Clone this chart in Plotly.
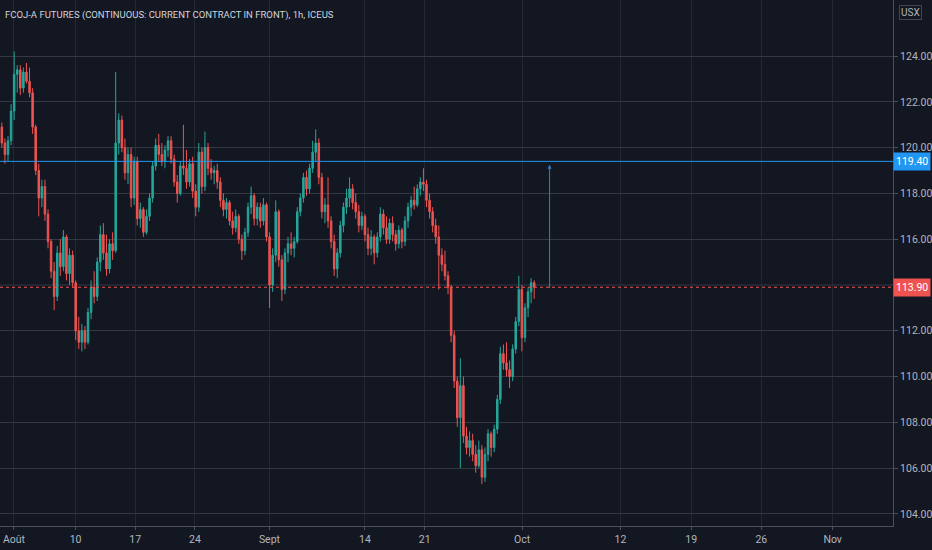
import plotly.graph_objects as go

# trading sessions (Jul 31 is only partly visible on the left edge)
sessions = [
    "2020-07-31",
    "2020-08-03", "2020-08-04", "2020-08-05", "2020-08-06", "2020-08-07",
    "2020-08-10", "2020-08-11", "2020-08-12", "2020-08-13", "2020-08-14",
    "2020-08-17", "2020-08-18", "2020-08-19", "2020-08-20", "2020-08-21",
    "2020-08-24", "2020-08-25", "2020-08-26", "2020-08-27", "2020-08-28",
    "2020-08-31", "2020-09-01", "2020-09-02", "2020-09-03", "2020-09-04",
    "2020-09-08", "2020-09-09", "2020-09-10", "2020-09-11",
    "2020-09-14", "2020-09-15", "2020-09-16", "2020-09-17", "2020-09-18",
    "2020-09-21", "2020-09-22", "2020-09-23", "2020-09-24", "2020-09-25",
    "2020-09-28", "2020-09-29", "2020-09-30", "2020-10-01",
]
BARS_PER_SESSION = 4
FIRST_SLOT = 2  # first session starts mid-day

opens = [
    120.9, 120.2,
    119.7, 120.3, 121.6, 123.2,  123.4, 122.6, 123.3, 122.9,  122.4, 120.9, 119.0, 117.8,
    118.3, 117.1, 115.9, 114.6,  113.5, 115.4, 114.8, 116.1,
    114.5, 115.3, 114.1, 112.0,  111.5, 112.0, 111.5, 112.8,  113.9, 113.5, 115.0, 116.2,
    115.4, 114.7, 115.8, 115.5,  120.2, 121.2, 120.0, 118.9,
    119.7, 117.8, 119.4, 116.9,  117.3, 116.3, 117.0, 117.8,  119.2, 120.1, 119.7, 119.4,
    119.9, 120.3, 119.5, 118.5,  118.0, 119.2, 119.1, 118.5,
    119.3, 118.1, 117.4, 119.8,  118.3, 120.0, 119.1, 118.9,  119.0, 118.5, 117.7, 117.3,
    117.6, 116.8, 116.5, 117.0,  116.0, 115.5, 116.3, 117.4,
    117.9, 116.9, 117.4, 116.8,  117.5, 116.1, 114.0, 115.3,  117.2, 115.1, 113.8, 115.4,
    115.8, 115.6, 115.9, 117.2,  117.8, 118.7, 118.2, 119.1,
    119.8, 120.2, 118.7, 117.2,  117.5, 116.8, 115.9, 114.7,  115.4, 116.6, 117.4, 117.8,
    118.2, 117.6, 117.2, 116.6,
    117.0, 116.2, 115.6, 116.1,  115.4, 116.1, 117.1, 116.5,  116.0, 116.7, 116.2, 115.8,
    116.4, 115.9, 116.8, 117.4,  117.7, 117.5, 118.2, 118.5,
    118.4, 117.7, 117.2, 116.6,  116.1, 115.3, 114.9, 114.4,  113.9, 111.8, 109.8, 108.2,
    109.6, 107.4, 106.9, 107.2,  106.6, 106.1, 106.8, 105.6,
    106.6, 107.5, 106.9, 107.7,  109.0, 111.0, 110.6, 110.3,  110.0, 111.2, 112.4, 113.8,
    111.7, 113.0, 113.7, 114.1,
]
highs = [
    121.1, 120.4,
    120.5, 121.9, 124.2, 123.6,  123.6, 123.5, 123.7, 123.5,  122.6, 121.0, 119.3, 118.6,
    118.6, 117.3, 116.0, 115.0,  115.7, 116.0, 116.4, 116.2,
    115.6, 115.5, 114.2, 112.6,  112.3, 112.2, 113.0, 114.2,  114.6, 115.2, 116.6, 116.7,
    116.2, 116.0, 116.3, 123.3,  121.5, 121.4, 120.4, 120.0,
    120.0, 119.6, 119.6, 117.6,  117.4, 117.3, 118.0, 119.4,  120.4, 120.6, 120.2, 120.1,
    120.5, 120.5, 119.7, 118.8,  119.4, 121.0, 119.9, 119.5,
    119.6, 118.4, 120.2, 120.0,  120.7, 120.2, 119.5, 119.2,  119.3, 118.7, 118.0, 117.8,
    117.7, 117.2, 117.3, 117.1,  116.2, 116.5, 117.6, 118.3,
    118.0, 117.6, 117.6, 117.8,  117.6, 116.3, 115.6, 117.7,  117.3, 115.3, 115.6, 116.1,
    116.3, 116.1, 117.4, 118.0,  118.9, 119.0, 119.3, 120.3,
    120.8, 120.4, 118.9, 117.8,  118.7, 117.0, 116.2, 115.6,  116.8, 117.6, 118.2, 118.7,
    118.4, 118.0, 117.5, 117.2,
    117.1, 116.5, 116.4, 116.2,  116.3, 117.4, 117.3, 117.0,  116.9, 117.0, 116.4, 116.6,
    116.5, 117.0, 117.6, 117.9,  118.3, 118.4, 118.7, 119.1,
    118.6, 118.0, 117.4, 116.9,  116.6, 115.6, 115.5, 114.6,  114.0, 112.0, 110.0, 110.8,
    110.0, 107.8, 107.6, 107.5,  107.0, 107.2, 107.0, 106.9,
    107.7, 107.6, 107.9, 109.2,  111.3, 111.4, 111.5, 110.7,  111.4, 112.6, 114.4, 114.0,
    113.2, 113.9, 114.3, 114.2,
]
lows = [
    120.0, 119.3,
    119.4, 120.1, 121.2, 122.4,  122.3, 122.4, 122.8, 122.2,  120.6, 118.8, 117.0, 117.4,
    116.8, 115.6, 114.3, 112.9,  113.3, 114.4, 114.6, 114.2,
    114.0, 113.9, 111.6, 111.2,  111.1, 111.2, 111.4, 112.5,  113.2, 113.3, 114.6, 115.1,
    114.4, 114.5, 115.1, 115.4,  119.7, 119.8, 118.6, 118.4,
    117.4, 117.5, 116.6, 116.5,  116.1, 116.2, 116.8, 117.6,  119.0, 119.4, 119.2, 119.1,
    119.6, 119.3, 118.3, 117.6,  117.9, 118.8, 118.2, 118.3,
    117.8, 117.0, 117.2, 118.0,  118.1, 118.8, 118.6, 118.4,  118.2, 117.4, 117.0, 116.9,
    116.6, 116.2, 116.3, 115.8,  115.1, 115.3, 116.1, 117.1,
    116.6, 116.6, 116.5, 116.6,  115.9, 113.0, 113.7, 115.0,  114.8, 113.3, 113.6, 115.0,
    115.3, 115.2, 115.8, 117.0,  117.6, 117.9, 118.0, 118.9,
    119.4, 118.4, 116.9, 116.7,  116.5, 115.6, 114.4, 114.3,  115.2, 116.3, 117.1, 117.4,
    117.3, 116.9, 116.3, 116.4,
    115.9, 115.3, 115.3, 114.9,  115.2, 115.9, 116.2, 115.8,  115.8, 115.9, 115.5, 115.6,
    115.6, 115.7, 116.5, 117.0,  117.3, 117.4, 117.9, 118.1,
    117.4, 116.9, 116.3, 115.8,  113.8, 114.6, 114.2, 113.6,  111.5, 109.5, 107.8, 106.0,
    107.1, 106.6, 106.5, 106.3,  105.8, 106.0, 105.3, 105.4,
    106.3, 106.5, 106.7, 107.5,  108.8, 110.3, 110.0, 109.5,  109.8, 111.0, 112.2, 111.1,
    111.5, 112.6, 113.2, 113.4,
]
closes = [
    120.2, 119.7,
    120.3, 121.6, 123.2, 123.4,  122.6, 123.3, 122.9, 122.4,  120.9, 119.0, 117.8, 118.3,
    117.1, 115.9, 114.6, 113.5,  115.4, 114.8, 116.1, 114.5,
    115.3, 114.1, 112.0, 111.5,  112.0, 111.5, 112.8, 113.9,  113.5, 115.0, 116.2, 115.4,
    114.7, 115.8, 115.5, 120.2,  121.2, 120.0, 118.9, 119.7,
    117.8, 119.4, 116.9, 117.3,  116.3, 117.0, 117.8, 119.2,  120.1, 119.7, 119.4, 119.9,
    120.3, 119.5, 118.5, 118.0,  119.2, 119.1, 118.5, 119.3,
    118.1, 117.4, 119.8, 118.3,  120.0, 119.1, 118.9, 119.0,  118.5, 117.7, 117.3, 117.6,
    116.8, 116.5, 117.0, 116.0,  115.5, 116.3, 117.4, 117.9,
    116.9, 117.4, 116.8, 117.5,  116.1, 114.0, 115.3, 117.2,  115.1, 113.8, 115.4, 115.8,
    115.6, 115.9, 117.2, 117.8,  118.7, 118.2, 119.1, 119.8,
    120.2, 118.7, 117.2, 117.5,  116.8, 115.9, 114.7, 115.4,  116.6, 117.4, 117.8, 118.2,
    117.6, 117.2, 116.6, 117.0,
    116.2, 115.6, 116.1, 115.4,  116.1, 117.1, 116.5, 116.0,  116.7, 116.2, 115.8, 116.4,
    115.9, 116.8, 117.4, 117.7,  117.5, 118.2, 118.5, 118.4,
    117.7, 117.2, 116.6, 116.1,  115.3, 114.9, 114.4, 113.9,  111.8, 109.8, 108.2, 109.6,
    107.4, 106.9, 107.2, 106.6,  106.1, 106.8, 105.6, 106.6,
    107.5, 106.9, 107.7, 109.0,  111.0, 110.6, 110.3, 110.0,  111.2, 112.4, 113.8, 111.7,
    113.0, 113.7, 114.1, 113.9,
]

# x-axis labels (French locale, as on the chart)
tick_text = ["Août", "10", "17", "24", "Sept", "14", "21", "Oct", "12", "19", "26", "Nov"]
tick_pos = [0.48, 5.49, 10.34, 15.19, 21.24, 29.0, 33.85, 41.76, 49.76, 55.5, 61.2, 67.0]

# price scale labels (114 is hidden behind the last-price tag)
price_ticks = [104, 106, 108, 110, 112, 116, 118, 120, 122, 124]

resistance = 119.40
last_price = closes[-1]

# bar position = session number + fraction of the session
xs = []
for s in range(len(sessions)):
    start = FIRST_SLOT if s == 0 else 0
    for slot in range(start, BARS_PER_SESSION):
        xs.append(s - 1 + slot / BARS_PER_SESSION)
xs = xs[:len(closes)]

BG = '#131722'
UP = '#26a69a'
DOWN = '#ef5350'
BLUE = '#2196f3'
TXT = '#b2b5be'
GRID_H = '#343843'
FONT = 'Liberation Sans Narrow, Roboto, sans-serif'

fig = go.Figure(go.Candlestick(
    x=xs, open=opens, high=highs, low=lows, close=closes,
    increasing=dict(line=dict(color=UP, width=1), fillcolor=UP),
    decreasing=dict(line=dict(color=DOWN, width=1), fillcolor=DOWN),
    whiskerwidth=0, showlegend=False,
))

# grid row at 114 (its label is covered by the price tag)
fig.add_hline(y=114, line=dict(color=GRID_H, width=1), layer='below')
fig.add_hline(y=resistance, line=dict(color=BLUE, width=1))
fig.add_hline(y=last_price, line=dict(color=DOWN, width=1, dash='dot'))

# target arrow from current price up to resistance
fig.add_annotation(x=44.0, y=resistance - 0.15, ax=44.0, ay=last_price - 0.1,
                   xref='x', yref='y', axref='x', ayref='y', text='',
                   showarrow=True, arrowhead=2, arrowsize=0.8, arrowwidth=1,
                   arrowcolor='#2f7fd0')

# price tags on the right scale
for val, col in [(resistance, BLUE), (last_price, DOWN)]:
    fig.add_annotation(x=1, y=val, xref='paper', yref='y', xanchor='left',
                       xshift=0, text=f'{val:.2f}', showarrow=False,
                       bgcolor=col, borderpad=2, align='left',
                       font=dict(color='white', size=10.5, family=FONT))

fig.add_annotation(x=1, y=1, xref='paper', yref='paper', xanchor='left',
                   yanchor='top', xshift=6, yshift=-5, text='USX', showarrow=False,
                   bordercolor='#434651', borderwidth=1, borderpad=1, bgcolor=BG,
                   font=dict(color=TXT, size=10, family=FONT))

fig.add_annotation(x=0, y=1, xref='paper', yref='paper', xanchor='left',
                   yanchor='top', xshift=3, yshift=-7,
                   text='FCOJ-A FUTURES (CONTINUOUS: CURRENT CONTRACT IN FRONT), 1h, ICEUS',
                   showarrow=False, font=dict(color='#d1d4dc', size=9.5, family=FONT))

fig.update_layout(
    width=932, height=550,
    margin=dict(l=0, r=34, t=0, b=24),
    paper_bgcolor=BG, plot_bgcolor=BG,
    font=dict(family=FONT, color=TXT, size=10.5),
    xaxis=dict(range=[-0.65, 71.9], tickvals=tick_pos, ticktext=tick_text,
               showgrid=True, gridcolor='#242832', zeroline=False,
               rangeslider=dict(visible=False), showline=True, linecolor='#4c505b',
               ticks='outside', ticklen=3, tickcolor='#4c505b', fixedrange=True,
               ticklabeloverflow='allow'),
    yaxis=dict(side='right', range=[103.47, 126.45], tickvals=price_ticks,
               tickformat='.2f', showgrid=True, gridcolor=GRID_H, zeroline=False,
               showline=True, linecolor='#4c505b', ticks='outside', ticklen=4,
               tickcolor='#4c505b', fixedrange=True),
)

fig.write_html("out.html", config={'displayModeBar': False},
               post_script="document.body.style.margin='0';"
               "document.body.style.background='#131722';")
